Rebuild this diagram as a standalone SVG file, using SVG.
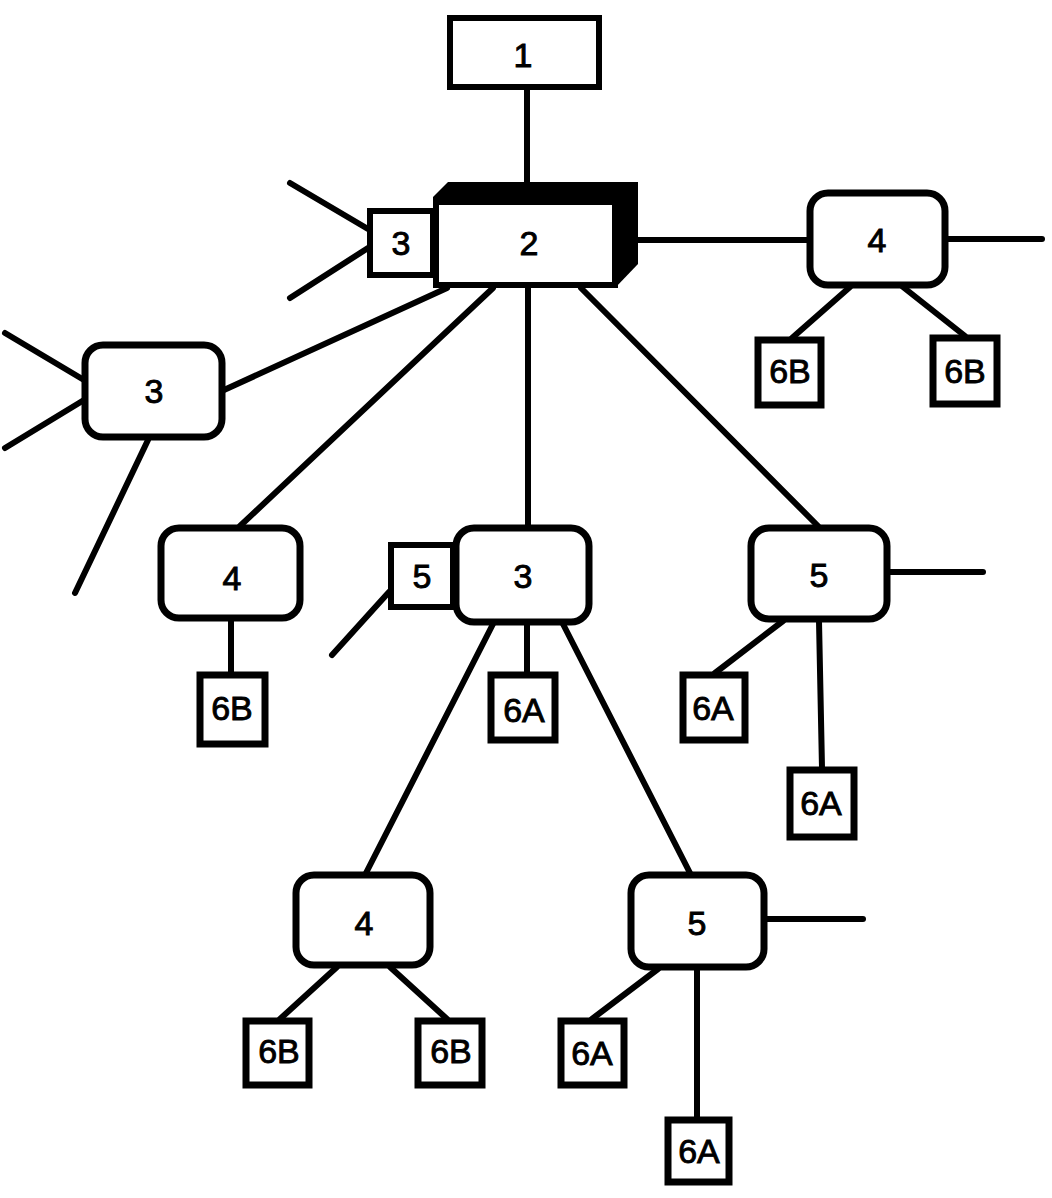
<svg xmlns="http://www.w3.org/2000/svg" width="1052" height="1198" viewBox="0 0 1052 1198">
<style>
.ln{stroke:#000;stroke-width:6;stroke-linecap:round;fill:none}
.bx{fill:#fff;stroke:#000;stroke-width:6}
.rb{fill:#fff;stroke:#000;stroke-width:7}
.sq{fill:#fff;stroke:#000;stroke-width:7}
.t{font-family:"Liberation Sans",Arial,sans-serif;font-size:34px;fill:#000;stroke:#000;stroke-width:0.9;text-anchor:middle}
</style>
<rect width="1052" height="1198" fill="#fff"/>
<g id="connectors">
<line class="ln" x1="527" y1="90" x2="527" y2="184"/>
<line class="ln" x1="290" y1="183" x2="368" y2="229"/>
<line class="ln" x1="290" y1="298" x2="368" y2="248"/>
<line class="ln" x1="638" y1="240" x2="808" y2="240"/>
<line class="ln" x1="947" y1="239" x2="1042" y2="239"/>
<line class="ln" x1="850" y1="287" x2="792" y2="338"/>
<line class="ln" x1="903" y1="287" x2="965" y2="336"/>
<line class="ln" x1="447" y1="288" x2="224" y2="390"/>
<line class="ln" x1="5" y1="333" x2="84" y2="380"/>
<line class="ln" x1="5" y1="448" x2="84" y2="400"/>
<line class="ln" x1="148" y1="440" x2="75" y2="593"/>
<line class="ln" x1="493" y1="288" x2="240" y2="526"/>
<line class="ln" x1="528" y1="288" x2="528" y2="526"/>
<line class="ln" x1="581" y1="288" x2="818" y2="526"/>
<line class="ln" x1="231" y1="620" x2="231" y2="673"/>
<line class="ln" x1="389" y1="592" x2="332" y2="655"/>
<line class="ln" x1="527" y1="624" x2="527" y2="673"/>
<line class="ln" x1="493" y1="624" x2="366" y2="873"/>
<line class="ln" x1="563" y1="624" x2="690" y2="873"/>
<line class="ln" x1="889" y1="572" x2="983" y2="572"/>
<line class="ln" x1="783" y1="621" x2="715" y2="673"/>
<line class="ln" x1="819" y1="621" x2="822" y2="768"/>
<line class="ln" x1="337" y1="967" x2="280" y2="1019"/>
<line class="ln" x1="390" y1="967" x2="447" y2="1019"/>
<line class="ln" x1="766" y1="919" x2="863" y2="919"/>
<line class="ln" x1="658" y1="969" x2="592" y2="1019"/>
<line class="ln" x1="697" y1="969" x2="697" y2="1118"/>
</g>
<g id="n1">
<rect class="bx" x="450" y="18" width="149" height="69"/>
<text class="t" x="523" y="67">1</text>
</g>
<g id="n2">
<polygon points="433,197 448,182 638,182 638,264 615,288 433,288" fill="#000"/>
<rect class="bx" x="436" y="202" width="179" height="83"/>
<text class="t" x="529" y="255">2</text>
</g>
<g id="n3a">
<rect class="bx" x="370" y="211" width="63" height="64"/>
<text class="t" x="401" y="255">3</text>
</g>
<g id="n4a">
<rect class="rb" x="810" y="193" width="135" height="92" rx="18"/>
<text class="t" x="877" y="252">4</text>
</g>
<g id="n6b1">
<rect class="sq" x="758" y="340" width="63" height="65"/>
<text class="t" x="790" y="383">6B</text>
</g>
<g id="n6b2">
<rect class="sq" x="933" y="338" width="64" height="66"/>
<text class="t" x="965" y="383">6B</text>
</g>
<g id="n3b">
<rect class="rb" x="85" y="345" width="137" height="92" rx="18"/>
<text class="t" x="154" y="403">3</text>
</g>
<g id="n4b">
<rect class="rb" x="161" y="528" width="139" height="90" rx="18"/>
<text class="t" x="232" y="590">4</text>
</g>
<g id="n6b3">
<rect class="sq" x="200" y="675" width="65" height="69"/>
<text class="t" x="232" y="720">6B</text>
</g>
<g id="n5a">
<rect class="bx" x="391" y="545" width="62" height="62"/>
<text class="t" x="422" y="588">5</text>
</g>
<g id="n3c">
<rect class="rb" x="456" y="528" width="133" height="94" rx="18"/>
<text class="t" x="523" y="588">3</text>
</g>
<g id="n6a1">
<rect class="sq" x="491" y="675" width="64" height="65"/>
<text class="t" x="524" y="722">6A</text>
</g>
<g id="n5b">
<rect class="rb" x="751" y="528" width="136" height="91" rx="18"/>
<text class="t" x="819" y="587">5</text>
</g>
<g id="n6a2">
<rect class="sq" x="683" y="675" width="62" height="65"/>
<text class="t" x="713" y="720">6A</text>
</g>
<g id="n6a3">
<rect class="sq" x="790" y="770" width="64" height="67"/>
<text class="t" x="821" y="815">6A</text>
</g>
<g id="n4c">
<rect class="rb" x="296" y="875" width="134" height="90" rx="18"/>
<text class="t" x="364" y="935">4</text>
</g>
<g id="n6b4">
<rect class="sq" x="246" y="1021" width="63" height="64"/>
<text class="t" x="279" y="1063">6B</text>
</g>
<g id="n6b5">
<rect class="sq" x="418" y="1021" width="64" height="64"/>
<text class="t" x="451" y="1063">6B</text>
</g>
<g id="n5c">
<rect class="rb" x="631" y="875" width="133" height="92" rx="18"/>
<text class="t" x="697" y="935">5</text>
</g>
<g id="n6a4">
<rect class="sq" x="561" y="1021" width="63" height="64"/>
<text class="t" x="592" y="1065">6A</text>
</g>
<g id="n6a5">
<rect class="sq" x="668" y="1120" width="61" height="62"/>
<text class="t" x="699" y="1163">6A</text>
</g>
</svg>
